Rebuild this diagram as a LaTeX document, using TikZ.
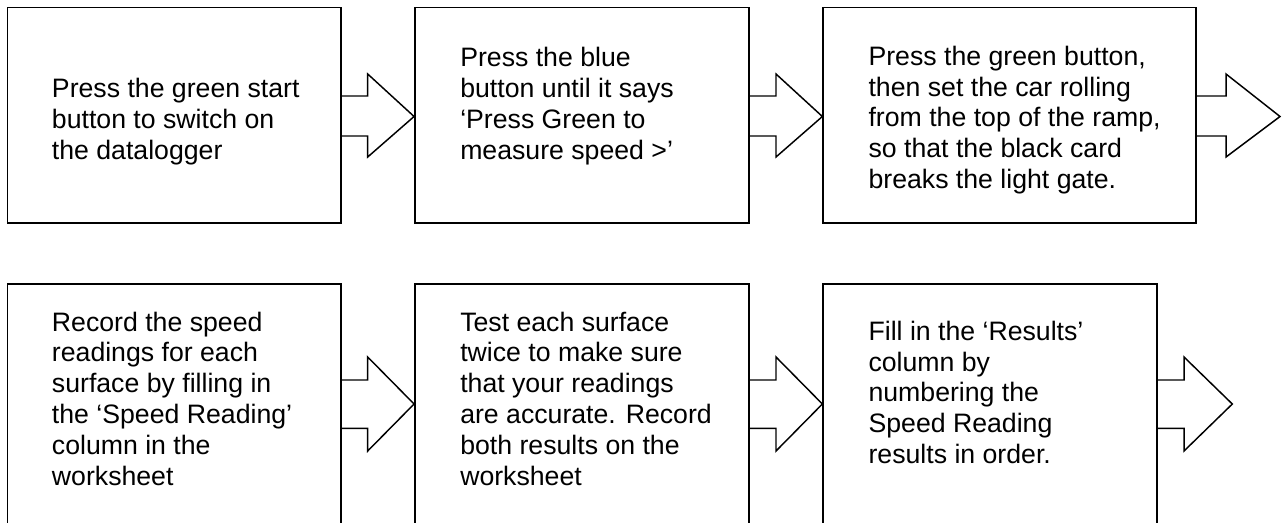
\documentclass[tikz,border=0pt]{standalone}
\usepackage{fontspec}
\setmainfont{Liberation Sans}
\usetikzlibrary{fit}
\tikzset{
  box/.style={draw=black, line width=1.4pt, inner sep=0pt, fill=none},
  flowarrow/.style={draw=black, line width=1.1pt, line join=miter},
  steptext/.style={anchor=base west, align=left, inner sep=0pt,
    font=\fontsize{20}{23.1}\selectfont}
}
\begin{document}
\begin{tikzpicture}[x=0.75pt,y=-0.75pt]
\path[use as bounding box, clip] (0,0) rectangle (1287,522);
\fill[white] (0,0) rectangle (1287,522);
% row 1 boxes
\node[box, fit={(7.5,7.5) (340.7,223.3)}] (b1) {};
\node[box, fit={(415,7.5) (749,223.3)}] (b2) {};
\node[box, fit={(823.3,7.5) (1196,223.3)}] (b3) {};
% row 2 boxes (run past the lower edge)
\node[box, fit={(7.5,284.3) (340.7,545)}] (b4) {};
\node[box, fit={(415,284.3) (749,545)}] (b5) {};
\node[box, fit={(823.3,284.3) (1156.7,545)}] (b6) {};
\coordinate (end1) at (1280,116.5);
\coordinate (end2) at (1232.3,404);
% row 1 arrows
\draw[flowarrow] (b1.east |- 0,96) -- (367.7,96) -- (367.7,74) -- (b2.west |- 0,116.5)
  -- (367.7,157) -- (367.7,136) -- (b1.east |- 0,136);
\draw[flowarrow] (b2.east |- 0,96) -- (776,96) -- (776,74) -- (b3.west |- 0,116.5)
  -- (776,157) -- (776,136) -- (b2.east |- 0,136);
\draw[flowarrow] (b3.east |- 0,96) -- (1226,96) -- (1226,74) -- (end1)
  -- (1226,157) -- (1226,136) -- (b3.east |- 0,136);
% row 2 arrows
\draw[flowarrow] (b4.east |- 0,380) -- (367.7,380) -- (367.7,357) -- (b5.west |- 0,404)
  -- (367.7,451) -- (367.7,428.3) -- (b4.east |- 0,428.3);
\draw[flowarrow] (b5.east |- 0,380) -- (776,380) -- (776,357) -- (b6.west |- 0,404)
  -- (776,451) -- (776,428.3) -- (b5.east |- 0,428.3);
\draw[flowarrow] (b6.east |- 0,380) -- (1184,380) -- (1184,357) -- (end2)
  -- (1184,451) -- (1184,428.3) -- (b6.east |- 0,428.3);
% texts (base anchor = baseline of the last line)
\node[steptext] (t1) at (51.7,159) {Press the green start\\button to switch on\\the datalogger};
\node[steptext] (t2) at (460,159) {Press the blue\\button until it says\\‘Press Green to\\measure speed >’};
\node[steptext] (t3) at (868.3,188.5) {Press the green button,\\then set the car rolling\\from the top of the ramp,\\so that the black card\\breaks the light gate.};
\node[steptext] (t4) at (51.7,485) {Record the speed\\readings for each\\surface by filling in\\the ‘Speed Reading’\\column in the\\worksheet};
\node[steptext] (t5) at (460,485) {Test each surface\\twice to make sure\\that your readings\\are accurate. Record\\both results on the\\worksheet};
\node[steptext] (t6) at (868.3,463.5) {Fill in the ‘Results’\\column by\\numbering the\\Speed Reading\\results in order.};
\end{tikzpicture}
\end{document}
